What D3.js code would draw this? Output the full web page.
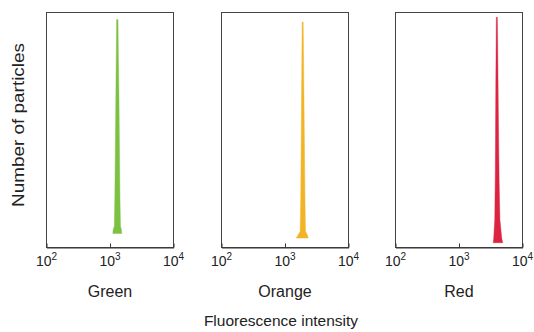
<!DOCTYPE html>
<html><head><meta charset="utf-8">
<script src="https://cdn.jsdelivr.net/npm/d3@7"></script>
<style>
body{margin:0;background:#fff;}
svg text{font-family:"Liberation Sans",Arial,Helvetica,sans-serif;fill:#222;}
</style></head>
<body>
<svg id="chart" width="534" height="332"></svg>
<script>
// ---- data ----
const channels = ["Green", "Orange", "Red"];
const colors = ["#7cc242", "#f2b425", "#dc2340"];
const tickValues = [100, 1000, 10000];
const tickExponents = ["2", "3", "4"];
// intensity (x) and number of particles (y, relative) for each histogram
const greenIntensity  = [1127, 1148, 1190, 1212, 1234, 1257, 1280, 1294, 1361, 1376, 1411, 1437, 1463, 1490, 1534, 1562];
const greenCount      = [5, 7, 8, 20, 41, 63, 85, 98, 98, 85, 63, 41, 20, 8, 7, 5];
const orangeIntensity = [1529, 1614, 1767, 1800, 1826, 1853, 1880, 1900, 1970, 1992, 2028, 2066, 2103, 2142, 2319, 2362];
const orangeCount     = [3, 4, 6, 20, 41, 63, 85, 97, 97, 85, 63, 41, 20, 6, 4, 3];
const redIntensity    = [3523, 3587, 3720, 3788, 3830, 3872, 3914, 3942, 4088, 4133, 4193, 4270, 4364, 4492, 4794, 4972];
const redCount        = [1, 3, 11, 28, 50, 72, 89, 99, 99, 89, 72, 50, 28, 11, 3, 1];
const baseCounts = [5, 3, 1];

const seriesX = [greenIntensity, orangeIntensity, redIntensity];
const seriesY = [greenCount, orangeCount, redCount];

// ---- layout ----
const svg = d3.select("#chart");
const panelLeft = [46, 221, 395];
const panelW = 127;
const plotTop = 12, plotBottom = 247;

const y = d3.scaleLinear().domain([0, 100]).range([245, 15]);

channels.forEach((name, i) => {
  const x = d3.scaleLog().domain([100, 10000]).range([panelLeft[i], panelLeft[i] + panelW]);
  const g = svg.append("g");
  // frame
  g.append("rect")
    .attr("x", panelLeft[i] + 0.5).attr("y", plotTop + 0.5)
    .attr("width", panelW).attr("height", plotBottom - plotTop)
    .attr("fill", "none").attr("stroke", "#444").attr("stroke-width", 1);

  // histogram
  const pts = seriesX[i].map((v, k) => [v, seriesY[i][k]]);
  const area = d3.area()
    .x(d => x(d[0]))
    .y0(y(baseCounts[i]))
    .y1(d => y(d[1]))
    .curve(d3.curveLinear);
  g.append("path").datum(pts)
    .attr("d", area)
    .attr("fill", colors[i])
    .attr("stroke", colors[i]).attr("stroke-width", 0.6).attr("stroke-opacity", 0.7);

  // axis ticks (inward)
  const ax = d3.axisBottom(x).tickValues(tickValues).tickSizeInner(-4).tickSizeOuter(0).tickFormat("");
  const axg = g.append("g").attr("transform", `translate(0.5,${plotBottom + 0.5})`).call(ax);
  axg.select(".domain").attr("stroke", "#333");
  axg.selectAll(".tick line").attr("stroke", "#333");

  // tick labels with superscripts
  tickValues.forEach((t, k) => {
    const txt = g.append("text")
      .attr("x", x(t) + 0.5).attr("y", 266)
      .attr("text-anchor", "middle")
      .style("font-size", "14px");
    txt.append("tspan").text("10");
    txt.append("tspan").attr("dy", -6).style("font-size", "10px").text(tickExponents[k]);
  });

  // channel label
  g.append("text")
    .attr("x", panelLeft[i] + panelW / 2 + 0.5).attr("y", 297)
    .attr("text-anchor", "middle")
    .style("font-size", "16px")
    .text(name);
});

svg.append("text")
  .attr("x", 281).attr("y", 326)
  .attr("text-anchor", "middle")
  .style("font-size", "15.5px")
  .text("Fluorescence intensity");

svg.append("text")
  .attr("transform", "translate(24,125) rotate(-90)")
  .attr("text-anchor", "middle")
  .attr("textLength", 164)
  .attr("lengthAdjust", "spacingAndGlyphs")
  .style("font-size", "17px")
  .text("Number of particles");
</script>
</body></html>
